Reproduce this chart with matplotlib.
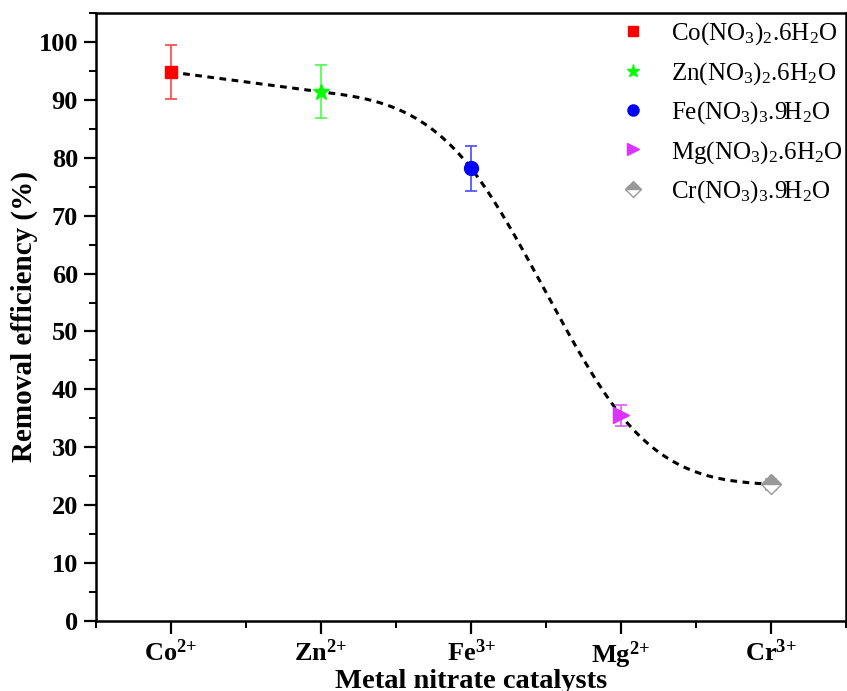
import numpy as np
import matplotlib
matplotlib.use("Agg")
import matplotlib.pyplot as plt
from matplotlib.ticker import MultipleLocator

plt.rcParams['font.family'] = 'Liberation Serif'
plt.rcParams['mathtext.default'] = 'regular'

# data
categories = [r'Co$^{2{+}}$', r'Zn$^{2{+}}$', r'Fe$^{3{+}}$', r'Mg$^{2{+}}$', r'Cr$^{3{+}}$']
legend_labels = [r'Co(NO$_3$)$_2$.6H$_2$O', r'Zn(NO$_3$)$_2$.6H$_2$O',
                 r'Fe(NO$_3$)$_3$.9H$_2$O', r'Mg(NO$_3$)$_2$.6H$_2$O',
                 r'Cr(NO$_3$)$_3$.9H$_2$O']
efficiency = [94.8, 91.4, 78.2, 35.5, 23.6]
errors = [4.7, 4.6, 3.9, 1.8, 1.0]

x = np.arange(1, len(categories) + 1, dtype=float)
y = np.array(efficiency, dtype=float)

# natural cubic spline through the data points
def natural_spline(xk, yk, xn):
    n = len(xk)
    h = np.diff(xk)
    A = np.zeros((n, n))
    b = np.zeros(n)
    A[0, 0] = 1.0
    A[-1, -1] = 1.0
    for i in range(1, n - 1):
        A[i, i-1] = h[i-1]
        A[i, i] = 2 * (h[i-1] + h[i])
        A[i, i+1] = h[i]
        b[i] = 6 * ((yk[i+1] - yk[i]) / h[i] - (yk[i] - yk[i-1]) / h[i-1])
    M = np.linalg.solve(A, b)
    out = np.empty_like(xn)
    for j, xv in enumerate(xn):
        k = min(max(np.searchsorted(xk, xv) - 1, 0), n - 2)
        a = xk[k+1] - xv
        c = xv - xk[k]
        hk = h[k]
        out[j] = (M[k] * a**3 / (6*hk) + M[k+1] * c**3 / (6*hk)
                  + (yk[k] / hk - M[k] * hk / 6) * a
                  + (yk[k+1] / hk - M[k+1] * hk / 6) * c)
    return out

xs = np.linspace(x[0], x[-1], 400)
ys = natural_spline(x, y, xs)

fig = plt.figure(figsize=(8.47, 6.91), dpi=100)
ax = fig.add_axes([96/847, 70/691, 750/847, 608/691])

ax.plot(xs, ys, color='black', lw=2.2, ls=(0, (2.2, 1.8)), zorder=2)

marker_colors = ['#ff0000', '#00ff00', '#0000ff', '#dd33ff', '#999999']
err_colors = ['#ff5050', '#55ff55', '#5555ff', '#e066ff', '#aaaaaa']
markers = ['s', '*', 'o', '>', 'D']
msizes = [8.5, 12, 10, 11, 10]

for i in range(len(x)):
    ax.errorbar(x[i], y[i], yerr=errors[i], fmt='none', ecolor=err_colors[i],
                elinewidth=1.3, capsize=4.5, capthick=1.3, zorder=3)
    if markers[i] == 'D':
        ax.plot(x[i], y[i], marker='D', ms=msizes[i], color=marker_colors[i],
                fillstyle='top', markerfacecoloralt='white', mec=marker_colors[i],
                mew=1.0, ls='none', label=legend_labels[i], zorder=4)
    else:
        ax.plot(x[i], y[i], marker=markers[i], ms=msizes[i], color=marker_colors[i],
                mec=marker_colors[i], ls='none', label=legend_labels[i], zorder=4)

ax.set_xlim(0.5, 5.5)
ax.set_ylim(0, 105)
ax.set_xticks(x)
ax.set_xticklabels(categories)
ax.xaxis.set_minor_locator(MultipleLocator(0.5))
ax.yaxis.set_major_locator(MultipleLocator(10))
ax.yaxis.set_minor_locator(MultipleLocator(5))

for sp in ax.spines.values():
    sp.set_linewidth(1.8)
ax.tick_params(which='major', direction='out', length=9, width=1.6, labelsize=19, pad=4)
ax.tick_params(which='minor', direction='out', length=5, width=1.4)
for lbl in ax.get_xticklabels() + ax.get_yticklabels():
    lbl.set_fontweight('bold')

ax.set_xlabel('Metal nitrate catalysts', fontsize=20.5, fontweight='bold', labelpad=-1)
ax.set_ylabel('Removal efficiency (%)', fontsize=21, fontweight='bold', labelpad=0)

leg = ax.legend(loc='upper right', frameon=False, fontsize=18, handlelength=1.0,
                handletextpad=1.0, labelspacing=0.5, borderaxespad=0.1,
                markerscale=0.8, bbox_to_anchor=(1.012, 1.008))

fig.savefig('out.png', dpi=100)
